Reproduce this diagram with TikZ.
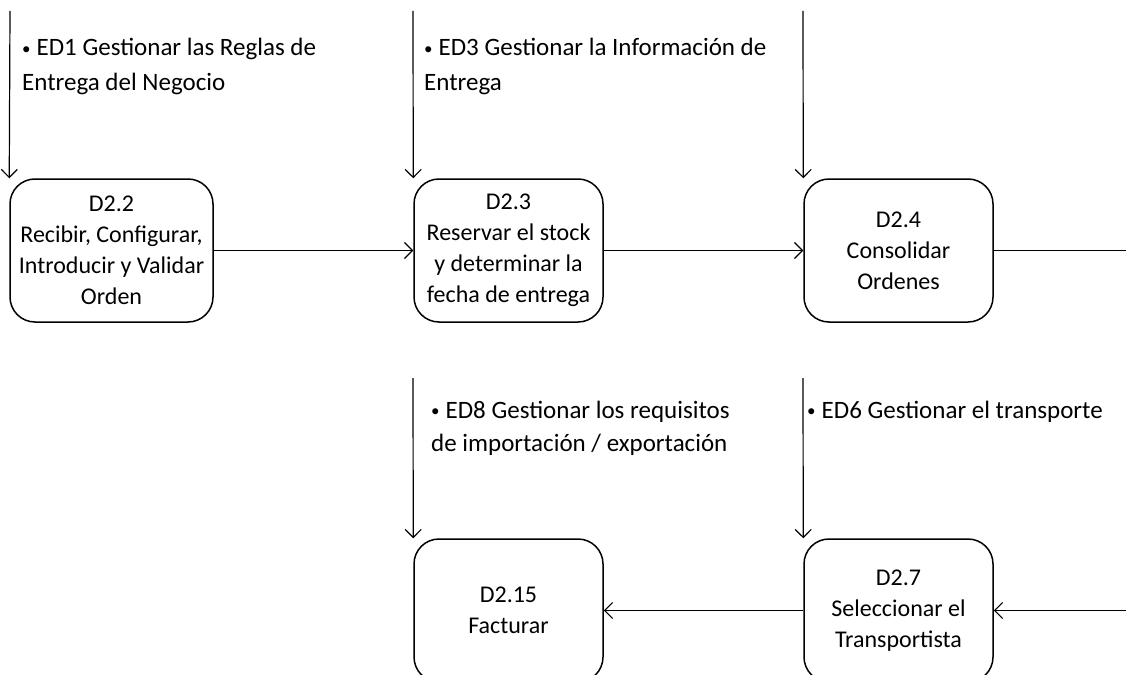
\documentclass[tikz,border=0pt]{standalone}
\usepackage{fontspec}
\setmainfont{Carlito}
\usetikzlibrary{arrows.meta}
% small list bullet followed by its gap
\newcommand{\notebullet}{{\fontsize{17}{17}\selectfont\raisebox{1.5pt}{•}}\hspace{6pt}}
\begin{document}
\begin{tikzpicture}[x=1pt,y=-1pt,
  proc/.style={draw, line width=1.5pt, rounded corners=25pt, minimum height=143pt,
    inner sep=0pt, align=center, font=\fontsize{24}{31}\selectfont},
  flow/.style={line width=1.2pt, -{Straight Barb[length=8pt,width=16pt]}},
  plainline/.style={line width=1.2pt},
  note/.style={anchor=north west, inner sep=0pt, align=left},
  notefont/.style={font=\fontsize{25}{35}\selectfont},
  notetight/.style={font=\fontsize{25}{33}\selectfont}]
\clip (0,0) rectangle (1126,674);

% process boxes
\node[proc, minimum width=203pt] (d22) at (111.5,250.5) {D2.2\\Recibir, Configurar,\\Introducir y Validar\\Orden};
\node[proc, minimum width=189pt] (d23) at (508.5,250.5) {D2.3\\Reservar el stock\\y determinar la\\fecha de entrega};
\node[proc, minimum width=189pt] (d24) at (898.5,250.5) {D2.4\\Consolidar\\Ordenes};
\node[proc, minimum width=189pt] (d215) at (508.5,610.5) {D2.15\\Facturar};
\node[proc, minimum width=189pt] (d27) at (898.5,610.5) {D2.7\\Seleccionar el\\Transportista};

% enabler notes
\node[note, notefont] (ed1) at (22,31) {\strut\notebullet ED1 Gestionar las Reglas de\\Entrega del Negocio};
\node[note, notefont] (ed3) at (424,31) {\strut\notebullet ED3 Gestionar la Información de\\Entrega};
\node[note, notetight] (ed8) at (431,394.9) {\strut\notebullet ED8 Gestionar los requisitos\\de importación / exportación};
\node[note, notefont] (ed6) at (807,393.5) {\strut\notebullet ED6 Gestionar el transporte};

% free ends of the connectors
\coordinate (in22) at (10,11);
\coordinate (in23) at (413,11);
\coordinate (in24) at (803,11);
\coordinate (in215) at (413,378);
\coordinate (in27) at (803,378);
\coordinate (out24) at (1126,250.5);
\coordinate (in27r) at (1126,610.5);

% connectors
\draw[flow] (in22) -- (d22.north west);
\draw[flow] (in23) -- (d23.north west);
\draw[flow] (in24) -- (d24.north west);
\draw[flow] (in215) -- (d215.north west);
\draw[flow] (in27) -- (d27.north west);
\draw[flow] (d22.east) -- (d23.west);
\draw[flow] (d23.east) -- (d24.west);
\draw[plainline] (d24.east) -- (out24);
\draw[flow] (in27r) -- (d27.east);
\draw[flow] (d27.west) -- (d215.east);
\end{tikzpicture}
\end{document}
